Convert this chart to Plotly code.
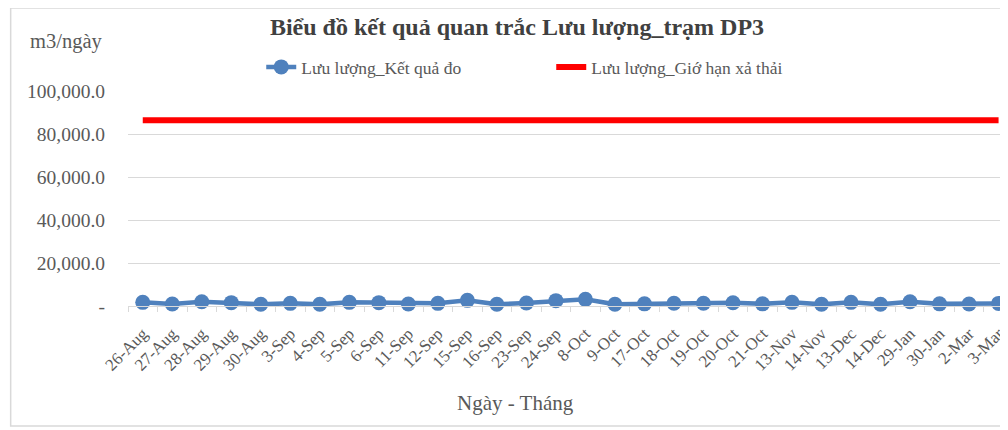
import plotly.graph_objects as go

dates = ["26-Aug", "27-Aug", "28-Aug", "29-Aug", "30-Aug", "3-Sep", "4-Sep", "5-Sep", "6-Sep",
         "11-Sep", "12-Sep", "15-Sep", "16-Sep", "23-Sep", "24-Sep", "8-Oct", "9-Oct", "17-Oct",
         "18-Oct", "19-Oct", "20-Oct", "21-Oct", "13-Nov", "14-Nov", "13-Dec", "14-Dec", "29-Jan",
         "30-Jan", "2-Mar", "3-Mar"]
ket_qua_do = [1700, 930, 2000, 1550, 780, 1240, 780, 1700, 1550, 930, 1240, 2630, 780, 1400, 2500,
              3100, 780, 1000, 1300, 1300, 1500, 1000, 1700, 780, 1700, 780, 2000, 1000, 900, 1200]
gioi_han = [86400] * len(dates)

y_tickvals = [0, 20000, 40000, 60000, 80000, 100000]
y_ticktext = ["-", "20,000.0", "40,000.0", "60,000.0", "80,000.0", "100,000.0"]

FONT = "Liberation Serif"
OFF = 8  # page body margin
W, H = 1000, 422
L, R = 128 - OFF, 0
T = 91 - OFF
B = H - (306 - OFF)
pw, ph = W - L - R, H - T - B

def px(sx):
    return (sx - OFF - L) / pw

def py(sy):
    return (H - B - (sy - OFF)) / ph

fig = go.Figure()
fig.add_trace(go.Scatter(
    x=dates, y=ket_qua_do, mode="lines+markers", name="Lưu lượng_Kết quả đo",
    line=dict(color="#4f81bd", width=4.5), marker=dict(size=15, color="#4f81bd"),
    cliponaxis=False,
))
fig.add_trace(go.Scatter(
    x=dates, y=gioi_han, mode="lines", name="Lưu lượng_Giớ hạn xả thải",
    line=dict(color="#ff0000", width=6),
))

fig.update_layout(
    width=W, height=H,
    margin=dict(l=L, r=R, t=T, b=B),
    paper_bgcolor="white", plot_bgcolor="white",
    font=dict(family=FONT, color="#595959", size=16),
    title=dict(text="<b>Biểu đồ kết quả quan trắc Lưu lượng_trạm DP3</b>",
               x=(517 - OFF) / W, xanchor="center", xref="container",
               y=1 - (27 - OFF) / H, yanchor="middle", yref="container",
               font=dict(family=FONT, size=24, color="#404040")),
    legend=dict(orientation="h", x=px(262), xanchor="left", y=py(67), yanchor="middle",
                font=dict(family=FONT, size=17.5, color="#595959"),
                entrywidth=245, entrywidthmode="pixels", bgcolor="rgba(0,0,0,0)",
                itemwidth=30),
    showlegend=True,
)

fig.update_xaxes(
    type="category", range=[-0.5, 29.15], tickangle=-45,
    tickfont=dict(family=FONT, size=17, color="#595959"),
    showgrid=False, showline=True, linecolor="#d9d9d9", linewidth=1,
    ticks="outside", tickson="boundaries", ticklen=5, tickcolor="#d9d9d9",
    ticklabelstandoff=10,
)
fig.update_yaxes(
    range=[0, 100000], tickvals=y_tickvals, ticktext=y_ticktext,
    tickfont=dict(family=FONT, size=19.5, color="#595959"),
    showgrid=True, gridcolor="#d9d9d9", gridwidth=1, zeroline=False,
    ticks="", ticklabelstandoff=22,
)

fig.add_annotation(text="m3/ngày", x=px(66), y=py(42), xref="paper", yref="paper",
                   showarrow=False, xanchor="center", yanchor="middle",
                   font=dict(family=FONT, size=20.5, color="#595959"))
fig.add_annotation(text="Ngày - Tháng", x=px(518), y=py(403), xref="paper", yref="paper",
                   showarrow=False, xanchor="center", yanchor="middle",
                   font=dict(family=FONT, size=21, color="#595959"))

# chart border
fig.add_shape(type="rect", xref="paper", yref="paper",
              x0=px(10), x1=px(1020), y0=py(426), y1=py(8),
              line=dict(color="#d9d9d9", width=1.5), layer="below")

fig.write_html("out.html")
